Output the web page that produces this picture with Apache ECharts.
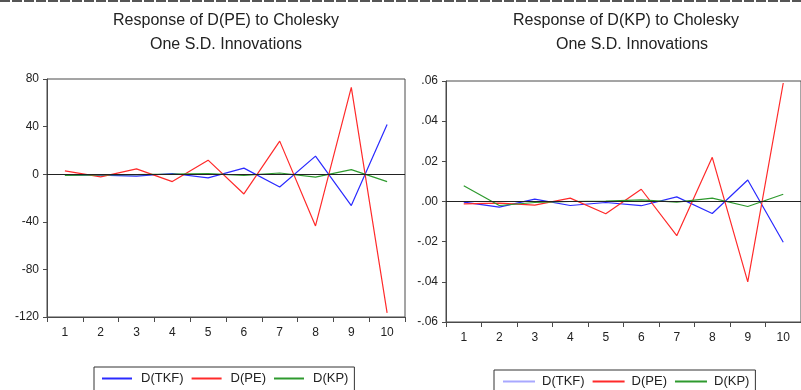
<!DOCTYPE html>
<html>
<head>
<meta charset="utf-8">
<script src="https://cdn.jsdelivr.net/npm/echarts@6/dist/echarts.min.js"></script>
<style>html,body{margin:0;padding:0;background:#fff}#c{width:801px;height:390px}</style>
</head>
<body>
<div id="c"></div>
<script>
var periods = ['1','2','3','4','5','6','7','8','9','10'];
var seriesNames = ['D(TKF)','D(PE)','D(KP)'];
// Response of D(PE)
var pe_tkf = [-0.8, -0.8, -1.7, 0.6, -3.1, 5.1, -10.7, 15.2, -26.4, 41.8];
var pe_pe  = [2.8, -2.2, 4.5, -6.2, 11.8, -16.6, 27.8, -43.5, 73.0, -116.5];
var pe_kp  = [-1.0, -0.5, -0.3, 0.0, 0.5, -1.0, 1.0, -2.5, 3.8, -6.2];
// Response of D(KP)
var kp_tkf = [-0.0003, -0.0028, 0.0012, -0.0020, -0.0005, -0.0021, 0.0023, -0.0060, 0.0107, -0.0203];
var kp_pe  = [-0.0012, -0.0008, -0.0018, 0.0017, -0.0061, 0.0061, -0.0170, 0.0220, -0.0400, 0.0590];
var kp_kp  = [0.0078, -0.0020, -0.0005, 0.0000, 0.0002, 0.0008, -0.0003, 0.0017, -0.0025, 0.0036];
var leftTicks = {min: -120, max: 80, interval: 40};
var rightTicks = {min: -0.06, max: 0.06, interval: 0.02};

var colors = ['#2a2aff', '#ff2a2a', '#2e9a2e'];
var font = 'Liberation Sans, Arial, Helvetica, sans-serif';
var axisCol = '#4a4a4a';

function xAx(gi){
  return {type:'category', gridIndex:gi, data:periods, boundaryGap:true,
    axisLine:{onZero:false, lineStyle:{color:axisCol, width:1}},
    axisTick:{show:true, length:5, inside:false, lineStyle:{color:axisCol}},
    axisLabel:{color:'#222', fontSize:12, fontFamily:font, margin:10},
    splitLine:{show:false}};
}
function yAx(gi, t, fmt){
  return {type:'value', gridIndex:gi, min:t.min, max:t.max, interval:t.interval,
    axisLine:{show:true, onZero:false, lineStyle:{color:axisCol, width:1}},
    axisTick:{show:true, length:4, inside:false, lineStyle:{color:axisCol}},
    axisLabel:{color:'#222', fontSize:12, fontFamily:font, margin:8, formatter:fmt},
    splitLine:{show:false}};
}
function ser(name, data, gi, color, zero){
  var s = {name:name, type:'line', xAxisIndex:gi, yAxisIndex:gi, data:data,
    symbol:'none', lineStyle:{color:color, width:1.2}, itemStyle:{color:color}, animation:false};
  if(zero){
    s.markLine = {silent:true, symbol:'none', label:{show:false},
      lineStyle:{color:'#222', type:'solid', width:1}, data:[{yAxis:0}]};
  }
  return s;
}
var titleStyle = {fontSize:16, fontWeight:'normal', color:'#222', fontFamily:font};
var chart = echarts.init(document.getElementById('c'));
chart.setOption({
  animation:false,
  backgroundColor:'#fff',
  title:[
    {text:'Response of D(PE) to Cholesky', left:226, top:13, textAlign:'center', textStyle:titleStyle, padding:0},
    {text:'One S.D. Innovations', left:226, top:37, textAlign:'center', textStyle:titleStyle, padding:0},
    {text:'Response of D(KP) to Cholesky', left:626, top:13, textAlign:'center', textStyle:titleStyle, padding:0},
    {text:'One S.D. Innovations', left:632, top:37, textAlign:'center', textStyle:titleStyle, padding:0}
  ],
  grid:[
    {left:47, top:79, width:358, height:238, show:true, borderColor:axisCol, borderWidth:1, backgroundColor:'transparent'},
    {left:446, top:81, width:360, height:241, show:true, borderColor:axisCol, borderWidth:1, backgroundColor:'transparent'}
  ],
  xAxis:[xAx(0), xAx(1)],
  yAxis:[yAx(0, leftTicks, function(v){return String(v);}),
         yAx(1, rightTicks, function(v){return v.toFixed(2).replace('0.', '.');})],
  legend:[
    {left:94, top:367, width:260, orient:'horizontal', borderColor:'#333', borderWidth:1,
     padding:[5,6,10,8], itemGap:8, itemWidth:30, itemHeight:2, icon:'rect',
     textStyle:{fontSize:13, color:'#222', fontFamily:font, padding:[0,0,0,4]},
     data:[{name:'D(TKF)', itemStyle:{color:colors[0]}}, {name:'D(PE)', itemStyle:{color:colors[1]}}, {name:'D(KP)', itemStyle:{color:colors[2]}}]},
    {left:494, top:370, width:260, orient:'horizontal', borderColor:'#333', borderWidth:1,
     padding:[5,6,10,9], itemGap:8, itemWidth:32, itemHeight:2, icon:'rect',
     textStyle:{fontSize:13, color:'#222', fontFamily:font, padding:[0,0,0,2]},
     data:[{name:'D(TKF)', itemStyle:{color:'#a8a8ff'}}, {name:'D(PE)', itemStyle:{color:colors[1]}}, {name:'D(KP)', itemStyle:{color:colors[2]}}]}
  ],
  graphic:[
    {type:'line', shape:{x1:0, y1:1, x2:801, y2:1}, style:{stroke:'#555', lineWidth:2, lineDash:[10,2]}, silent:true}
  ],
  series:[
    ser(seriesNames[0], pe_tkf, 0, colors[0], true),
    ser(seriesNames[1], pe_pe, 0, colors[1], false),
    ser(seriesNames[2], pe_kp, 0, colors[2], false),
    ser(seriesNames[0], kp_tkf, 1, colors[0], true),
    ser(seriesNames[1], kp_pe, 1, colors[1], false),
    ser(seriesNames[2], kp_kp, 1, colors[2], false)
  ]
});
</script>
</body>
</html>
